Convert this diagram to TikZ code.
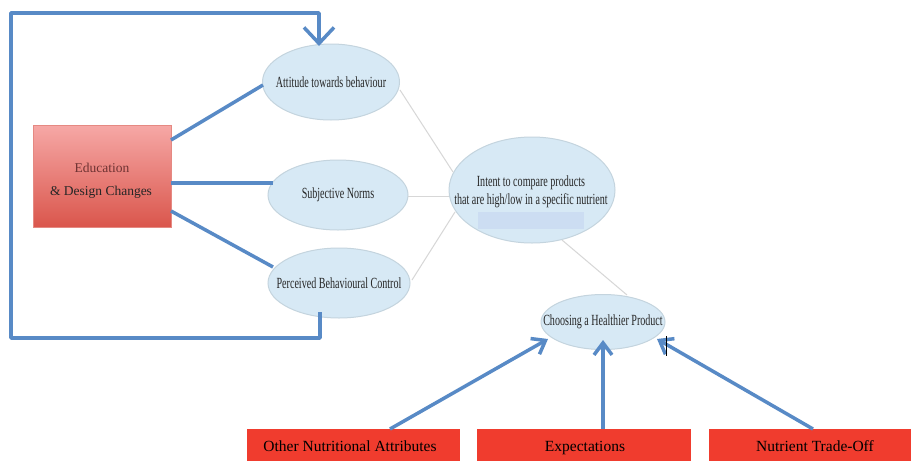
\documentclass[tikz,border=0pt]{standalone}
\usepackage{fontspec}
\usepackage{graphicx}
\setmainfont{Liberation Serif}
\usetikzlibrary{shapes.geometric,arrows.meta}
\definecolor{bluel}{RGB}{88,138,198}
\definecolor{ellfill}{RGB}{215,233,245}
\definecolor{elldraw}{RGB}{196,212,222}
\definecolor{paleblue}{RGB}{204,221,242}
\definecolor{redbox}{RGB}{240,60,46}
\definecolor{edutop}{RGB}{246,168,166}
\definecolor{edubot}{RGB}{218,86,76}
\definecolor{edutext}{RGB}{110,50,50}
\definecolor{ellgray}{RGB}{215,215,215}
\newcommand{\cnd}[1]{\makebox[0pt]{\scalebox{0.65}[1]{#1}}}
\tikzset{
  ell/.style={ellipse, fill=ellfill, draw=elldraw, line width=1pt, inner sep=0pt, text=black!85, font=\fontsize{15.5}{17}\selectfont},
  redlabel/.style={fill=redbox, inner sep=0pt, anchor=north west},
  redtext/.style={font=\fontsize{15.5}{17}\selectfont, text=black, anchor=base},
  blueline/.style={draw=bluel, line width=3.5pt},
  bluearrow/.style={blueline, -{Straight Barb[length=12pt,width=18pt,line width=3.5pt]}},
  grayline/.style={draw=ellgray, line width=1pt},
}
\begin{document}
\begin{tikzpicture}[x=1pt,y=-1pt]
\useasboundingbox (0,0) rectangle (911,461);
\fill[white] (0,0) rectangle (911,461);

% ellipses
\node[ell, minimum width=137pt, minimum height=76pt] (att) at (331,82)
  {\cnd{Attitude towards behaviour}};
\node[ell, minimum width=140pt, minimum height=70pt] (sub) at (338,195)
  {\cnd{Subjective Norms}};
\node[ell, minimum width=142pt, minimum height=70pt] (pbc) at (339,283)
  {\cnd{Perceived Behavioural Control}};
\node[ell, minimum width=166pt, minimum height=106pt] (int) at (532,190) {};
\fill[paleblue] (478,212) rectangle (584,229);
\node[text=black!85, align=center, font=\fontsize{15.5}{18}\selectfont] (inttxt) at (531,192)
  {\cnd{Intent to compare products}\\\cnd{that are high/low in a specific nutrient}};
\node[ell, minimum width=124pt, minimum height=55pt] (cho) at (603,322)
  {\cnd{Choosing a Healthier Product}};

% education box
\shade[top color=edutop, bottom color=edubot, draw=edubot!70!white, line width=0.6pt]
  (33,125) rectangle (171,227);
\node[font=\fontsize{13.5}{15}\selectfont, text=edutext] (edu1) at (102,168) {Education};
\node[font=\fontsize{13.5}{15}\selectfont, text=black!85] (edu2) at (101,192) {\& Design Changes};
\coordinate (eduA) at (171,140);
\coordinate (eduB) at (171,183);
\coordinate (eduC) at (171,211);

% bottom red boxes
\node[redlabel, minimum width=213pt, minimum height=32pt] (oth) at (247,429) {};
\node[redtext] (othtxt) at (350,451) {Other Nutritional Attributes};
\node[redlabel, minimum width=214pt, minimum height=32pt] (exp) at (477,429) {};
\node[redtext] (exptxt) at (585,451) {Expectations};
\node[redlabel, minimum width=202pt, minimum height=32pt] (ntr) at (709,429) {};
\node[redtext] (ntrtxt) at (815,451) {Nutrient Trade-Off};

% gray connectors
\draw[grayline] (400,90) -- (453,172);
\draw[grayline] (408,196) -- (449,196);
\draw[grayline] (412,280) -- (455,212);
\draw[grayline] (562,240) -- (627,295);

% blue connectors from education
\draw[blueline] (eduA) -- (263,85);
\draw[blueline] (eduB) -- (273,183);
\draw[blueline] (eduC) -- (273,267);

% feedback loop
\coordinate (fb1) at (320,338);
\coordinate (fb2) at (11,338);
\coordinate (fb3) at (11,13);
\coordinate (fb4) at (319,13);
\draw[blueline, -{Straight Barb[length=16pt,width=30pt,line width=3.5pt]}, line join=round]
  (320,312) -- (fb1) -- (fb2) -- (fb3) -- (fb4) -- (319,46);

% arrows to choosing
\draw[bluearrow] (390,429) -- (548,339);
\draw[bluearrow] (603,429) -- (603,340);
\draw[bluearrow] (813,429) -- (657,339);

% cursor mark
\draw[black, line width=1pt] (666,336) -- (666,356);
\end{tikzpicture}
\end{document}
